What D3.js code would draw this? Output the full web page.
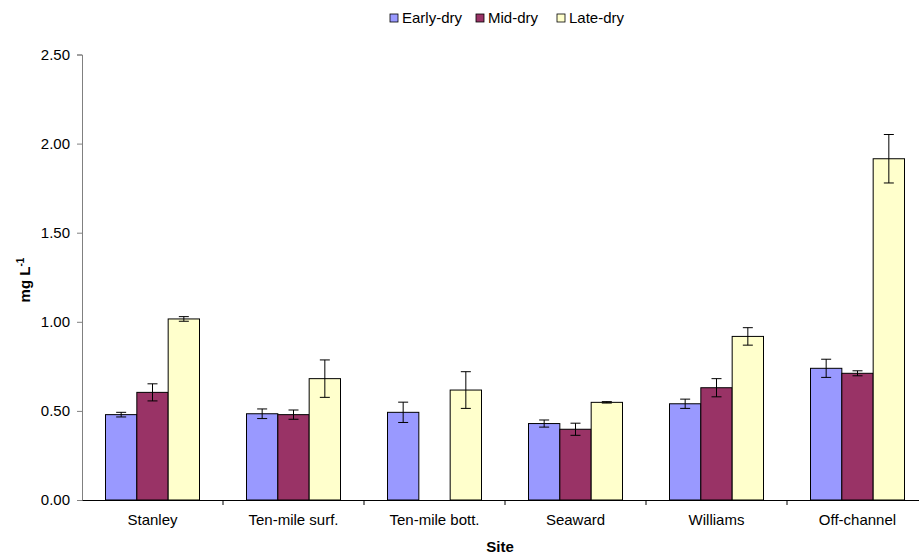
<!DOCTYPE html>
<html><head><meta charset="utf-8">
<script src="https://cdn.jsdelivr.net/npm/d3@7"></script>
<style>body{margin:0;background:#fff}text{font-family:"Liberation Sans",Arial,sans-serif}</style>
</head><body><svg id="c" width="919" height="555"></svg>
<script>
const categories = ["Stanley","Ten-mile surf.","Ten-mile bott.","Seaward","Williams","Off-channel"];
const seriesNames = ["Early-dry","Mid-dry","Late-dry"];
const seriesColors = ["#9999FF","#993366","#FFFFCC"];
const earlyDry = [0.479,0.484,0.492,0.429,0.540,0.739];
const midDry   = [0.604,0.479,null,0.397,0.630,0.711];
const lateDry  = [1.016,0.681,0.617,0.548,0.918,1.915];
const earlyErr = [0.013,0.027,0.057,0.020,0.026,0.051];
const midErr   = [0.048,0.026,null,0.034,0.051,0.014];
const lateErr  = [0.013,0.105,0.103,0.004,0.049,0.136];
const yTicks = [0,0.5,1,1.5,2,2.5];

const values=[earlyDry,midDry,lateDry], errs=[earlyErr,midErr,lateErr];
const svg=d3.select("#c");
const L=82, R=928, T=54.5, B=500;
const x=d3.scaleBand().domain(categories).range([L,R]).paddingInner(0).paddingOuter(0);
const y=d3.scaleLinear().domain([0,2.5]).range([B,T]);
const bw=x.bandwidth()/4.5;
const xs=d3.scaleBand().domain(seriesNames).range([0,bw*3]);

const data=[];
categories.forEach((c,i)=>seriesNames.forEach((s,j)=>{
  if(values[j][i]!=null) data.push({c,s,j,v:values[j][i],e:errs[j][i]});
}));
const g=svg.append("g");
g.selectAll("rect.bar").data(data).join("rect").attr("class","bar")
 .attr("x",d=>x(d.c)+(x.bandwidth()-bw*3)/2+xs(d.s))
 .attr("width",xs.bandwidth())
 .attr("y",d=>y(d.v)).attr("height",d=>B-y(d.v))
 .attr("fill",d=>seriesColors[d.j]).attr("stroke","#000").attr("stroke-width",1);
const eg=g.selectAll("g.err").data(data).join("g").attr("class","err")
 .attr("transform",d=>`translate(${x(d.c)+(x.bandwidth()-bw*3)/2+xs(d.s)+xs.bandwidth()/2},0)`);
eg.append("line").attr("y1",d=>y(d.v+d.e)).attr("y2",d=>y(d.v-d.e)).attr("stroke","#000");
eg.append("line").attr("x1",-5).attr("x2",5).attr("y1",d=>y(d.v+d.e)).attr("y2",d=>y(d.v+d.e)).attr("stroke","#000");
eg.append("line").attr("x1",-5).attr("x2",5).attr("y1",d=>y(d.v-d.e)).attr("y2",d=>y(d.v-d.e)).attr("stroke","#000");

const ya=svg.append("g").attr("transform",`translate(${L},0)`)
 .call(d3.axisLeft(y).tickValues(yTicks).tickFormat(d3.format(".2f")).tickSize(5).tickPadding(7));
ya.select(".domain").attr("stroke","#808080");
ya.selectAll(".tick line").attr("stroke","#808080");
ya.selectAll("text").attr("font-size",15).attr("fill","#000");

const xa=svg.append("g").attr("transform",`translate(0,${B})`)
 .call(d3.axisBottom(x).tickSize(0).tickPadding(14));
xa.select(".domain").attr("stroke","#000");
xa.selectAll("text").attr("font-size",15).attr("fill","#000");
const tickPos=categories.slice(1).map(c=>x(c));
svg.append("g").selectAll("line").data(tickPos).join("line")
 .attr("x1",d=>d).attr("x2",d=>d).attr("y1",B).attr("y2",B+5).attr("stroke","#000");

svg.append("text").attr("x",500).attr("y",552).attr("text-anchor","middle")
 .attr("font-size",15).attr("font-weight","bold").text("Site");
const yl=svg.append("text").attr("transform","translate(30,280) rotate(-90)").attr("text-anchor","middle")
 .attr("font-size",15).attr("font-weight","bold");
yl.append("tspan").text("mg L");
yl.append("tspan").attr("dy",-6).attr("font-size",10).text("-1");

const leg=svg.append("g");
const lx=[390,476,557];
seriesNames.forEach((s,i)=>{
  leg.append("rect").attr("x",lx[i]).attr("y",14).attr("width",8).attr("height",8)
    .attr("fill",seriesColors[i]).attr("stroke","#000").attr("stroke-width",0.8);
  leg.append("text").attr("x",lx[i]+12).attr("y",23).attr("font-size",15).text(s);
});
</script></body></html>
